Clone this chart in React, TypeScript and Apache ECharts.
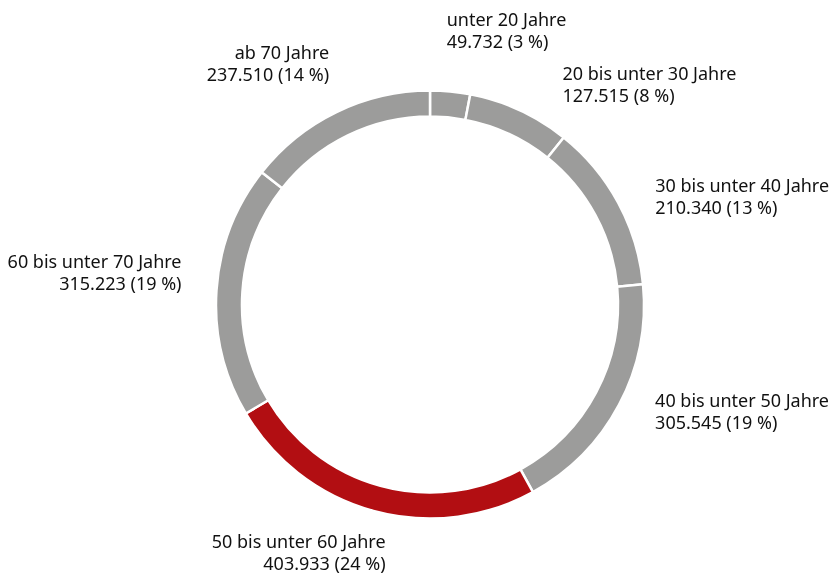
import React, { useEffect, useRef } from "react";
import * as echarts from "echarts";

const categories = [
  "unter 20 Jahre",
  "20 bis unter 30 Jahre",
  "30 bis unter 40 Jahre",
  "40 bis unter 50 Jahre",
  "50 bis unter 60 Jahre",
  "60 bis unter 70 Jahre",
  "ab 70 Jahre",
];
const values = [49732, 127515, 210340, 305545, 403933, 315223, 237510];
const percents = [3, 8, 13, 19, 24, 19, 14];
const highlightIndex = 4;

// layout constants (not data)
const CX = 430;
const CY = 304.5;
const LABEL_R = 240;
const labelNudge: [number, number][] = [
  [-6, -36],
  [32, -3],
  [14, 6],
  [13, -6],
  [19, 16],
  [-9, -17],
  [4, -26],
];

const GRAY = "#9c9c9b";
const RED = "#b20e12";

function fmt(n: number): string {
  return n.toString().replace(/\B(?=(\d{3})+(?!\d))/g, ".");
}

export default function App() {
  const ref = useRef<HTMLDivElement>(null);
  useEffect(() => {
    if (!ref.current) return;
    const chart = echarts.init(ref.current, null, { renderer: "svg" });
    const total = values.reduce((a, b) => a + b, 0);
    const mids: number[] = [];
    let cum = 0;
    values.forEach((v) => {
      mids.push(((cum + v / 2) / total) * 360);
      cum += v;
    });
    chart.setOption({
      animation: false,
      series: [
        {
          type: "pie",
          center: [CX, CY],
          radius: [188, 214],
          startAngle: 90,
          clockwise: true,
          avoidLabelOverlap: false,
          itemStyle: { borderColor: "#ffffff", borderWidth: 2.5 },
          emphasis: { disabled: true },
          label: {
            show: true,
            position: "outside",
            color: "#111111",
            fontFamily: "Noto Sans",
            fontSize: 18,
            lineHeight: 22,
            formatter: (p: any) =>
              `${categories[p.dataIndex]}\n${fmt(values[p.dataIndex])} (${percents[p.dataIndex]} %)`,
          },
          labelLine: { show: false },
          labelLayout: (p: any) => {
            const i = p.dataIndex;
            const a = (mids[i] * Math.PI) / 180;
            const right = Math.sin(a) >= 0;
            return {
              x: CX + LABEL_R * Math.sin(a) + labelNudge[i][0],
              y: CY - LABEL_R * Math.cos(a) + labelNudge[i][1],
              align: right ? "left" : "right",
              verticalAlign: "middle",
            };
          },
          data: values.map((v, i) => ({
            value: v,
            name: categories[i],
            itemStyle: { color: i === highlightIndex ? RED : GRAY },
          })),
        },
      ],
    });
    return () => chart.dispose();
  }, []);
  return (
    <div
      ref={ref}
      style={{ position: "fixed", left: 0, top: 0, width: 835, height: 576 }}
    />
  );
}
